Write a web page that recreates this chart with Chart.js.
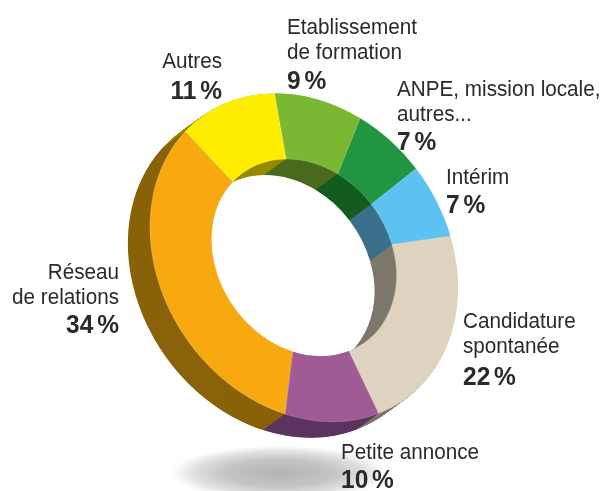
<!DOCTYPE html>
<html>
<head>
<meta charset="utf-8">
<title>Réseau de relations</title>
<script src="https://cdn.jsdelivr.net/npm/chart.js@4"></script>
<style>
    html, body { margin: 0; padding: 0; background: #fff; }
    canvas { display: block; }
</style>
</head>
<body>
<canvas id="donut" width="603" height="491"></canvas>
<script>
const categories = ['Autres', 'Etablissement\nde formation', 'ANPE, mission locale,\nautres...', 'Intérim', 'Candidature\nspontanée', 'Petite annonce', 'Réseau\nde relations'];
const shares = [11, 9, 7, 7, 22, 10, 34];
const faceColors = ['#FFED00', '#7AB833', '#1F963F', '#5BC2F1', '#DDD3BE', '#A05A96', '#F7A90F'];
const wallColors = ['#968A00', '#4A6B1F', '#125C20', '#3A7089', '#7D786C', '#5E3560', '#8A6209'];

// label anchor: x, first baseline, baseline of the bold figure, text align
const labelSpots = [
    [222, 68, 99, 'right'],
    [287, 34, 89, 'left'],
    [397, 96, 150, 'left'],
    [446, 184, 213, 'left'],
    [463, 328, 385, 'left'],
    [341, 459, 488, 'left'],
    [119, 279, 333, 'right']
];

// the flat ring seen tilted: where the top and the quarter-turn of the circle land
const ringCenter = { x: 304, y: 257.5 };
const topAxis = { x: -119, y: -126 };
const sideAxis = { x: 98, y: -105.5 };
const wallDepth = { x: -22, y: 16 };
const wallSteps = 44;

function tilt(ctx, arc, dx, dy) {
    const r = arc.outerRadius;
    const a = sideAxis.x / r, b = sideAxis.y / r, c = -topAxis.x / r, d = -topAxis.y / r;
    const e = ringCenter.x + dx - (a * arc.x + c * arc.y);
    const f = ringCenter.y + dy - (b * arc.x + d * arc.y);
    ctx.transform(a, b, c, d, e, f);
}

const tiltedRing = {
    id: 'tiltedRing',
    beforeDatasetsDraw(chart) {
        const ctx = chart.ctx;
        const arcs = chart.getDatasetMeta(0).data;
        for (let s = wallSteps; s >= 1; s--) {
            const t = s / wallSteps;
            arcs.forEach((arc, i) => {
                const keep = arc.options;
                arc.options = Object.assign({}, keep, { backgroundColor: wallColors[i], borderWidth: 0 });
                ctx.save();
                tilt(ctx, arc, wallDepth.x * t, wallDepth.y * t);
                arc.draw(ctx);
                ctx.restore();
                arc.options = keep;
            });
        }
        ctx.save();
        tilt(ctx, arcs[0], 0, 0);
    },
    afterDatasetsDraw(chart) {
        chart.ctx.restore();
    }
};

const floorShadow = {
    id: 'floorShadow',
    beforeDraw(chart) {
        const ctx = chart.ctx;
        ctx.save();
        ctx.translate(279, 473);
        ctx.scale(1, 0.25);
        const g = ctx.createRadialGradient(0, 0, 0, 0, 0, 108);
        g.addColorStop(0, '#b4b4b4');
        g.addColorStop(0.5, '#c4c4c4');
        g.addColorStop(0.8, '#e2e2e2');
        g.addColorStop(1, '#ffffff');
        ctx.fillStyle = g;
        ctx.beginPath();
        ctx.arc(0, 0, 108, 0, Math.PI * 2);
        ctx.fill();
        ctx.restore();
    }
};

function squeezedText(ctx, text, x, y, squeeze) {
    ctx.save();
    ctx.translate(x, y);
    ctx.scale(squeeze, 1);
    ctx.fillText(text, 0, 0);
    ctx.restore();
}

const sliceLabels = {
    id: 'sliceLabels',
    afterDraw(chart) {
        const ctx = chart.ctx;
        ctx.save();
        ctx.fillStyle = '#2b2a29';
        categories.forEach((name, i) => {
            const [x, y, figureY, align] = labelSpots[i];
            ctx.textAlign = align;
            ctx.font = '22px "Liberation Sans"';
            name.split('\n').forEach((line, n) => squeezedText(ctx, line, x, y + n * 25, 0.94));
            ctx.font = 'bold 25px "Liberation Sans"';
            ctx.wordSpacing = '-3px';
            squeezedText(ctx, shares[i] + ' %', x, figureY, 0.98);
            ctx.wordSpacing = '0px';
        });
        ctx.restore();
    }
};

new Chart(document.getElementById('donut'), {
    type: 'doughnut',
    data: {
        labels: categories,
        datasets: [{
            data: shares,
            backgroundColor: faceColors,
            borderColor: 'rgba(255,255,255,0.45)',
            borderWidth: 0.6
        }]
    },
    options: {
        responsive: false,
        animation: false,
        cutout: '60%',
        layout: { padding: 0 },
        plugins: { legend: { display: false }, tooltip: { enabled: false } }
    },
    plugins: [floorShadow, tiltedRing, sliceLabels]
});
</script>
</body>
</html>
